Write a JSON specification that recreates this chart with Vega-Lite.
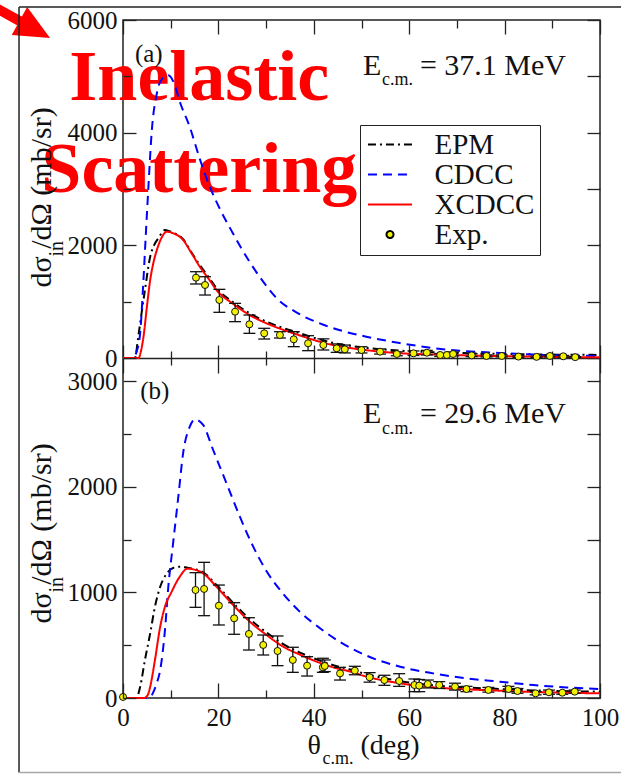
{
  "$schema": "https://vega.github.io/schema/vega-lite/v6.json",
  "width": 477,
  "height": 678,
  "autosize": {"type": "none"},
  "padding": {"left": 123, "top": 20, "right": 21, "bottom": 76},
  "background": "white",
  "config": {
    "view": {"stroke": "#222", "strokeWidth": 1.5},
    "axis": {
      "grid": false, "domain": false,
      "labelFont": "Liberation Serif, Times New Roman, DejaVu Serif, serif", "labelFontSize": 25, "labelColor": "#111",
      "titleFont": "Liberation Serif, Times New Roman, DejaVu Serif, serif", "titleFontWeight": "normal", "titleColor": "#111",
      "tickColor": "#222", "tickWidth": 1.3,
      "labelOverlap": false, "labelFlush": false, "labelBound": false
    },
    "legend": {"labelFont": "Liberation Serif, Times New Roman, DejaVu Serif, serif"},
    "text": {"font": "Liberation Serif, Times New Roman, DejaVu Serif, serif"}
  },
  "datasets": {
    "curves": [
      {"panel": "a", "series": "EPM", "theta": 0, "val": 0},
      {"panel": "a", "series": "EPM", "theta": 2.5, "val": 0},
      {"panel": "a", "series": "EPM", "theta": 3.2, "val": 378},
      {"panel": "a", "series": "EPM", "theta": 3.9, "val": 800},
      {"panel": "a", "series": "EPM", "theta": 4.6, "val": 1207},
      {"panel": "a", "series": "EPM", "theta": 5.7, "val": 1798},
      {"panel": "a", "series": "EPM", "theta": 6.5, "val": 2000},
      {"panel": "a", "series": "EPM", "theta": 7.4, "val": 2124},
      {"panel": "a", "series": "EPM", "theta": 8.8, "val": 2272},
      {"panel": "a", "series": "EPM", "theta": 9.6, "val": 2255},
      {"panel": "a", "series": "EPM", "theta": 10.5, "val": 2225},
      {"panel": "a", "series": "EPM", "theta": 12.6, "val": 2110},
      {"panel": "a", "series": "EPM", "theta": 14.3, "val": 1880},
      {"panel": "a", "series": "EPM", "theta": 16.1, "val": 1650},
      {"panel": "a", "series": "EPM", "theta": 18, "val": 1430},
      {"panel": "a", "series": "EPM", "theta": 19.6, "val": 1240},
      {"panel": "a", "series": "EPM", "theta": 23.1, "val": 990},
      {"panel": "a", "series": "EPM", "theta": 26.6, "val": 790},
      {"panel": "a", "series": "EPM", "theta": 30.1, "val": 645},
      {"panel": "a", "series": "EPM", "theta": 33.6, "val": 530},
      {"panel": "a", "series": "EPM", "theta": 37.1, "val": 440},
      {"panel": "a", "series": "EPM", "theta": 40, "val": 360},
      {"panel": "a", "series": "EPM", "theta": 44, "val": 270},
      {"panel": "a", "series": "EPM", "theta": 50, "val": 190},
      {"panel": "a", "series": "EPM", "theta": 58, "val": 130},
      {"panel": "a", "series": "EPM", "theta": 66, "val": 100},
      {"panel": "a", "series": "EPM", "theta": 75, "val": 80},
      {"panel": "a", "series": "EPM", "theta": 85, "val": 65},
      {"panel": "a", "series": "EPM", "theta": 100, "val": 55},

      {"panel": "a", "series": "CDCC", "theta": 0, "val": 0},
      {"panel": "a", "series": "CDCC", "theta": 2.2, "val": 0},
      {"panel": "a", "series": "CDCC", "theta": 2.8, "val": 100},
      {"panel": "a", "series": "CDCC", "theta": 3.6, "val": 444},
      {"panel": "a", "series": "CDCC", "theta": 4.2, "val": 1250},
      {"panel": "a", "series": "CDCC", "theta": 4.8, "val": 2219},
      {"panel": "a", "series": "CDCC", "theta": 5.4, "val": 3150},
      {"panel": "a", "series": "CDCC", "theta": 6, "val": 3994},
      {"panel": "a", "series": "CDCC", "theta": 7.1, "val": 4700},
      {"panel": "a", "series": "CDCC", "theta": 8.2, "val": 4960},
      {"panel": "a", "series": "CDCC", "theta": 9.5, "val": 5020},
      {"panel": "a", "series": "CDCC", "theta": 10.7, "val": 4880},
      {"panel": "a", "series": "CDCC", "theta": 12, "val": 4526},
      {"panel": "a", "series": "CDCC", "theta": 14, "val": 4100},
      {"panel": "a", "series": "CDCC", "theta": 16, "val": 3560},
      {"panel": "a", "series": "CDCC", "theta": 18, "val": 3080},
      {"panel": "a", "series": "CDCC", "theta": 20, "val": 2700},
      {"panel": "a", "series": "CDCC", "theta": 23, "val": 2220},
      {"panel": "a", "series": "CDCC", "theta": 26, "val": 1780},
      {"panel": "a", "series": "CDCC", "theta": 29, "val": 1400},
      {"panel": "a", "series": "CDCC", "theta": 32, "val": 1080},
      {"panel": "a", "series": "CDCC", "theta": 37, "val": 780},
      {"panel": "a", "series": "CDCC", "theta": 42, "val": 590},
      {"panel": "a", "series": "CDCC", "theta": 46, "val": 480},
      {"panel": "a", "series": "CDCC", "theta": 51, "val": 378},
      {"panel": "a", "series": "CDCC", "theta": 58, "val": 266},
      {"panel": "a", "series": "CDCC", "theta": 65, "val": 177},
      {"panel": "a", "series": "CDCC", "theta": 72, "val": 120},
      {"panel": "a", "series": "CDCC", "theta": 79, "val": 89},
      {"panel": "a", "series": "CDCC", "theta": 86, "val": 60},
      {"panel": "a", "series": "CDCC", "theta": 93, "val": 45},
      {"panel": "a", "series": "CDCC", "theta": 100, "val": 35},

      {"panel": "a", "series": "XCDCC", "theta": 0, "val": 0},
      {"panel": "a", "series": "XCDCC", "theta": 3.3, "val": 0},
      {"panel": "a", "series": "XCDCC", "theta": 3.7, "val": 100},
      {"panel": "a", "series": "XCDCC", "theta": 4.3, "val": 380},
      {"panel": "a", "series": "XCDCC", "theta": 5, "val": 900},
      {"panel": "a", "series": "XCDCC", "theta": 5.7, "val": 1385},
      {"panel": "a", "series": "XCDCC", "theta": 6.4, "val": 1700},
      {"panel": "a", "series": "XCDCC", "theta": 7.1, "val": 1917},
      {"panel": "a", "series": "XCDCC", "theta": 8, "val": 2120},
      {"panel": "a", "series": "XCDCC", "theta": 9.2, "val": 2242},
      {"panel": "a", "series": "XCDCC", "theta": 10.5, "val": 2215},
      {"panel": "a", "series": "XCDCC", "theta": 12.6, "val": 2095},
      {"panel": "a", "series": "XCDCC", "theta": 14.3, "val": 1870},
      {"panel": "a", "series": "XCDCC", "theta": 16.1, "val": 1620},
      {"panel": "a", "series": "XCDCC", "theta": 18, "val": 1400},
      {"panel": "a", "series": "XCDCC", "theta": 19.6, "val": 1207},
      {"panel": "a", "series": "XCDCC", "theta": 23.1, "val": 960},
      {"panel": "a", "series": "XCDCC", "theta": 26.6, "val": 760},
      {"panel": "a", "series": "XCDCC", "theta": 30.1, "val": 615},
      {"panel": "a", "series": "XCDCC", "theta": 33.6, "val": 500},
      {"panel": "a", "series": "XCDCC", "theta": 37.1, "val": 400},
      {"panel": "a", "series": "XCDCC", "theta": 40, "val": 320},
      {"panel": "a", "series": "XCDCC", "theta": 44, "val": 230},
      {"panel": "a", "series": "XCDCC", "theta": 50, "val": 150},
      {"panel": "a", "series": "XCDCC", "theta": 58, "val": 85},
      {"panel": "a", "series": "XCDCC", "theta": 66, "val": 60},
      {"panel": "a", "series": "XCDCC", "theta": 75, "val": 40},
      {"panel": "a", "series": "XCDCC", "theta": 85, "val": 25},
      {"panel": "a", "series": "XCDCC", "theta": 100, "val": 12},

      {"panel": "b", "series": "EPM", "theta": 0, "val": 0},
      {"panel": "b", "series": "EPM", "theta": 2.8, "val": 0},
      {"panel": "b", "series": "EPM", "theta": 3.6, "val": 107},
      {"panel": "b", "series": "EPM", "theta": 4.6, "val": 360},
      {"panel": "b", "series": "EPM", "theta": 5.7, "val": 612},
      {"panel": "b", "series": "EPM", "theta": 6.7, "val": 864},
      {"panel": "b", "series": "EPM", "theta": 7.8, "val": 1053},
      {"panel": "b", "series": "EPM", "theta": 9.2, "val": 1180},
      {"panel": "b", "series": "EPM", "theta": 10.9, "val": 1237},
      {"panel": "b", "series": "EPM", "theta": 12.3, "val": 1243},
      {"panel": "b", "series": "EPM", "theta": 13.5, "val": 1232},
      {"panel": "b", "series": "EPM", "theta": 15, "val": 1220},
      {"panel": "b", "series": "EPM", "theta": 16.8, "val": 1190},
      {"panel": "b", "series": "EPM", "theta": 19.6, "val": 1070},
      {"panel": "b", "series": "EPM", "theta": 23.1, "val": 900},
      {"panel": "b", "series": "EPM", "theta": 26.6, "val": 745},
      {"panel": "b", "series": "EPM", "theta": 30.1, "val": 620},
      {"panel": "b", "series": "EPM", "theta": 33.6, "val": 510},
      {"panel": "b", "series": "EPM", "theta": 37.1, "val": 430},
      {"panel": "b", "series": "EPM", "theta": 40.6, "val": 365},
      {"panel": "b", "series": "EPM", "theta": 44.1, "val": 310},
      {"panel": "b", "series": "EPM", "theta": 47.6, "val": 270},
      {"panel": "b", "series": "EPM", "theta": 51.1, "val": 225},
      {"panel": "b", "series": "EPM", "theta": 58.1, "val": 160},
      {"panel": "b", "series": "EPM", "theta": 65, "val": 120},
      {"panel": "b", "series": "EPM", "theta": 72, "val": 100},
      {"panel": "b", "series": "EPM", "theta": 79, "val": 85},
      {"panel": "b", "series": "EPM", "theta": 86, "val": 72},
      {"panel": "b", "series": "EPM", "theta": 100, "val": 60},

      {"panel": "b", "series": "CDCC", "theta": 0, "val": 0},
      {"panel": "b", "series": "CDCC", "theta": 5.5, "val": 0},
      {"panel": "b", "series": "CDCC", "theta": 6.2, "val": 40},
      {"panel": "b", "series": "CDCC", "theta": 7, "val": 130},
      {"panel": "b", "series": "CDCC", "theta": 7.8, "val": 265},
      {"panel": "b", "series": "CDCC", "theta": 8.8, "val": 644},
      {"panel": "b", "series": "CDCC", "theta": 9.5, "val": 1053},
      {"panel": "b", "series": "CDCC", "theta": 10.5, "val": 1464},
      {"panel": "b", "series": "CDCC", "theta": 11.6, "val": 1905},
      {"panel": "b", "series": "CDCC", "theta": 12.6, "val": 2316},
      {"panel": "b", "series": "CDCC", "theta": 14, "val": 2568},
      {"panel": "b", "series": "CDCC", "theta": 15.1, "val": 2637},
      {"panel": "b", "series": "CDCC", "theta": 16.8, "val": 2584},
      {"panel": "b", "series": "CDCC", "theta": 18.9, "val": 2347},
      {"panel": "b", "series": "CDCC", "theta": 21.7, "val": 2032},
      {"panel": "b", "series": "CDCC", "theta": 24.5, "val": 1716},
      {"panel": "b", "series": "CDCC", "theta": 27.3, "val": 1432},
      {"panel": "b", "series": "CDCC", "theta": 30.1, "val": 1200},
      {"panel": "b", "series": "CDCC", "theta": 33.6, "val": 985},
      {"panel": "b", "series": "CDCC", "theta": 37.1, "val": 815},
      {"panel": "b", "series": "CDCC", "theta": 41.3, "val": 660},
      {"panel": "b", "series": "CDCC", "theta": 45.5, "val": 530},
      {"panel": "b", "series": "CDCC", "theta": 51.1, "val": 400},
      {"panel": "b", "series": "CDCC", "theta": 58.1, "val": 296},
      {"panel": "b", "series": "CDCC", "theta": 65, "val": 233},
      {"panel": "b", "series": "CDCC", "theta": 72, "val": 186},
      {"panel": "b", "series": "CDCC", "theta": 79, "val": 154},
      {"panel": "b", "series": "CDCC", "theta": 86, "val": 123},
      {"panel": "b", "series": "CDCC", "theta": 93, "val": 100},
      {"panel": "b", "series": "CDCC", "theta": 100, "val": 85},

      {"panel": "b", "series": "XCDCC", "theta": 0, "val": 0},
      {"panel": "b", "series": "XCDCC", "theta": 4.4, "val": 0},
      {"panel": "b", "series": "XCDCC", "theta": 5.2, "val": 30},
      {"panel": "b", "series": "XCDCC", "theta": 5.7, "val": 107},
      {"panel": "b", "series": "XCDCC", "theta": 6.7, "val": 360},
      {"panel": "b", "series": "XCDCC", "theta": 7.8, "val": 675},
      {"panel": "b", "series": "XCDCC", "theta": 8.8, "val": 864},
      {"panel": "b", "series": "XCDCC", "theta": 10.2, "val": 1006},
      {"panel": "b", "series": "XCDCC", "theta": 11.9, "val": 1148},
      {"panel": "b", "series": "XCDCC", "theta": 13.5, "val": 1224},
      {"panel": "b", "series": "XCDCC", "theta": 15, "val": 1215},
      {"panel": "b", "series": "XCDCC", "theta": 16.8, "val": 1180},
      {"panel": "b", "series": "XCDCC", "theta": 19.6, "val": 1053},
      {"panel": "b", "series": "XCDCC", "theta": 23.1, "val": 880},
      {"panel": "b", "series": "XCDCC", "theta": 26.6, "val": 722},
      {"panel": "b", "series": "XCDCC", "theta": 30.1, "val": 596},
      {"panel": "b", "series": "XCDCC", "theta": 33.6, "val": 486},
      {"panel": "b", "series": "XCDCC", "theta": 37.1, "val": 410},
      {"panel": "b", "series": "XCDCC", "theta": 40.6, "val": 344},
      {"panel": "b", "series": "XCDCC", "theta": 44.1, "val": 290},
      {"panel": "b", "series": "XCDCC", "theta": 47.6, "val": 250},
      {"panel": "b", "series": "XCDCC", "theta": 51.1, "val": 202},
      {"panel": "b", "series": "XCDCC", "theta": 58.1, "val": 139},
      {"panel": "b", "series": "XCDCC", "theta": 65, "val": 101},
      {"panel": "b", "series": "XCDCC", "theta": 72, "val": 82},
      {"panel": "b", "series": "XCDCC", "theta": 79, "val": 69},
      {"panel": "b", "series": "XCDCC", "theta": 86, "val": 57},
      {"panel": "b", "series": "XCDCC", "theta": 100, "val": 44}
    ],
    "exp": [
      {"panel": "a", "series": "Exp.", "theta": 15.3, "val": 1426, "lo": 1314, "hi": 1532},
      {"panel": "a", "series": "Exp.", "theta": 17.2, "val": 1296, "lo": 1118, "hi": 1443},
      {"panel": "a", "series": "Exp.", "theta": 20.2, "val": 1030, "lo": 811, "hi": 1219},
      {"panel": "a", "series": "Exp.", "theta": 23.5, "val": 822, "lo": 645, "hi": 970},
      {"panel": "a", "series": "Exp.", "theta": 26.5, "val": 598, "lo": 438, "hi": 763},
      {"panel": "a", "series": "Exp.", "theta": 29.6, "val": 438, "lo": 337, "hi": 527},
      {"panel": "a", "series": "Exp.", "theta": 32.9, "val": 408, "lo": 355, "hi": 467},
      {"panel": "a", "series": "Exp.", "theta": 35.8, "val": 332, "lo": 201, "hi": 467},
      {"panel": "a", "series": "Exp.", "theta": 38.8, "val": 261, "lo": 130, "hi": 396},
      {"panel": "a", "series": "Exp.", "theta": 42.0, "val": 231, "lo": 142, "hi": 340},
      {"panel": "a", "series": "Exp.", "theta": 44.8, "val": 172, "lo": 100, "hi": 250},
      {"panel": "a", "series": "Exp.", "theta": 46.5, "val": 154, "lo": 90, "hi": 230},
      {"panel": "a", "series": "Exp.", "theta": 50.0, "val": 142, "lo": 90, "hi": 200},
      {"panel": "a", "series": "Exp.", "theta": 53.9, "val": 112, "lo": 70, "hi": 160},
      {"panel": "a", "series": "Exp.", "theta": 57.4, "val": 71, "lo": 40, "hi": 110},
      {"panel": "a", "series": "Exp.", "theta": 60.9, "val": 83, "lo": 45, "hi": 125},
      {"panel": "a", "series": "Exp.", "theta": 63.7, "val": 94, "lo": 55, "hi": 135},
      {"panel": "a", "series": "Exp.", "theta": 66.5, "val": 53, "lo": 30, "hi": 80},
      {"panel": "a", "series": "Exp.", "theta": 67.9, "val": 53, "lo": 30, "hi": 80},
      {"panel": "a", "series": "Exp.", "theta": 69.2, "val": 71, "lo": 40, "hi": 105},
      {"panel": "a", "series": "Exp.", "theta": 73.1, "val": 47, "lo": 25, "hi": 75},
      {"panel": "a", "series": "Exp.", "theta": 76.2, "val": 36, "lo": 20, "hi": 55},
      {"panel": "a", "series": "Exp.", "theta": 79.4, "val": 36, "lo": 20, "hi": 55},
      {"panel": "a", "series": "Exp.", "theta": 82.9, "val": 25, "lo": 12, "hi": 40},
      {"panel": "a", "series": "Exp.", "theta": 86.7, "val": 20, "lo": 10, "hi": 35},
      {"panel": "a", "series": "Exp.", "theta": 89.5, "val": 36, "lo": 20, "hi": 55},
      {"panel": "a", "series": "Exp.", "theta": 92.3, "val": 30, "lo": 15, "hi": 45},
      {"panel": "a", "series": "Exp.", "theta": 94.8, "val": 15, "lo": 5, "hi": 25},

      {"panel": "b", "series": "Exp.", "theta": 0, "val": 10, "lo": null, "hi": null},
      {"panel": "b", "series": "Exp.", "theta": 15.2, "val": 1022, "lo": 858, "hi": 1186},
      {"panel": "b", "series": "Exp.", "theta": 17.0, "val": 1032, "lo": 779, "hi": 1284},
      {"panel": "b", "series": "Exp.", "theta": 20.1, "val": 874, "lo": 691, "hi": 1069},
      {"panel": "b", "series": "Exp.", "theta": 23.3, "val": 754, "lo": 603, "hi": 902},
      {"panel": "b", "series": "Exp.", "theta": 26.4, "val": 606, "lo": 454, "hi": 760},
      {"panel": "b", "series": "Exp.", "theta": 29.4, "val": 502, "lo": 407, "hi": 596},
      {"panel": "b", "series": "Exp.", "theta": 32.4, "val": 445, "lo": 306, "hi": 587},
      {"panel": "b", "series": "Exp.", "theta": 35.6, "val": 360, "lo": 243, "hi": 480},
      {"panel": "b", "series": "Exp.", "theta": 38.6, "val": 306, "lo": 208, "hi": 391},
      {"panel": "b", "series": "Exp.", "theta": 41.9, "val": 290, "lo": 243, "hi": 376},
      {"panel": "b", "series": "Exp.", "theta": 42.3, "val": 303, "lo": 250, "hi": 360},
      {"panel": "b", "series": "Exp.", "theta": 45.5, "val": 233, "lo": 170, "hi": 290},
      {"panel": "b", "series": "Exp.", "theta": 48.6, "val": 259, "lo": 220, "hi": 300},
      {"panel": "b", "series": "Exp.", "theta": 51.7, "val": 196, "lo": 150, "hi": 240},
      {"panel": "b", "series": "Exp.", "theta": 54.8, "val": 170, "lo": 120, "hi": 215},
      {"panel": "b", "series": "Exp.", "theta": 57.9, "val": 161, "lo": 110, "hi": 230},
      {"panel": "b", "series": "Exp.", "theta": 61.1, "val": 123, "lo": 60, "hi": 180},
      {"panel": "b", "series": "Exp.", "theta": 62.1, "val": 117, "lo": 60, "hi": 175},
      {"panel": "b", "series": "Exp.", "theta": 63.9, "val": 132, "lo": 95, "hi": 170},
      {"panel": "b", "series": "Exp.", "theta": 66.3, "val": 123, "lo": 90, "hi": 155},
      {"panel": "b", "series": "Exp.", "theta": 69.6, "val": 107, "lo": 75, "hi": 140},
      {"panel": "b", "series": "Exp.", "theta": 72.0, "val": 85, "lo": 60, "hi": 110},
      {"panel": "b", "series": "Exp.", "theta": 76.6, "val": 76, "lo": 55, "hi": 100},
      {"panel": "b", "series": "Exp.", "theta": 80.8, "val": 85, "lo": 60, "hi": 110},
      {"panel": "b", "series": "Exp.", "theta": 82.7, "val": 66, "lo": 45, "hi": 90},
      {"panel": "b", "series": "Exp.", "theta": 86.5, "val": 44, "lo": 30, "hi": 60},
      {"panel": "b", "series": "Exp.", "theta": 89.3, "val": 54, "lo": 35, "hi": 75},
      {"panel": "b", "series": "Exp.", "theta": 92.1, "val": 50, "lo": 35, "hi": 65},
      {"panel": "b", "series": "Exp.", "theta": 94.7, "val": 60, "lo": 45, "hi": 75}
    ]
  },
  "resolve": {"scale": {"y": "independent"}, "axis": {"x": "independent", "y": "independent"}},
  "layer": [
    {
      "resolve": {"axis": {"x": "independent", "y": "independent"}},
      "layer": [
        {
          "data": {"values": [{}]},
          "mark": {"type": "text", "text": ["Inelastic", "Scattering"], "lineHeight": 92, "fontWeight": "bold", "fontSize": 72, "color": "#ff0000", "align": "center", "baseline": "alphabetic"},
          "encoding": {
            "x": {"datum": 16.0, "type": "quantitative", "scale": {"domain": [0, 100], "nice": false, "zero": false}, "axis": null},
            "y": {"datum": 4580, "type": "quantitative", "scale": {"domain": [0, 6000], "range": [338, 0], "nice": false, "zero": false}, "axis": null}
          }
        },
        {
          "data": {"values": [{}]},
          "mark": {"type": "rule", "color": "#ff0000", "strokeWidth": 10, "strokeCap": "butt"},
          "encoding": {
            "x": {"datum": -26.8, "type": "quantitative", "scale": {"domain": [0, 100], "nice": false, "zero": false}, "axis": null},
            "y": {"datum": 6223, "type": "quantitative", "scale": {"domain": [0, 6000], "range": [338, 0], "nice": false, "zero": false}, "axis": null},
            "x2": {"datum": -20.8},
            "y2": {"datum": 5939}
          }
        },
        {
          "data": {"values": [{}]},
          "mark": {"type": "point", "shape": "M1,0L-1,-0.91L-1,0.91Z", "filled": true, "color": "#ff0000", "opacity": 1, "size": 1225, "angle": 29},
          "encoding": {
            "x": {"datum": -18.5, "type": "quantitative", "scale": {"domain": [0, 100], "nice": false, "zero": false}, "axis": null},
            "y": {"datum": 5831, "type": "quantitative", "scale": {"domain": [0, 6000], "range": [338, 0], "nice": false, "zero": false}, "axis": null}
          }
        },
        {
          "data": {"name": "curves"},
          "transform": [{"filter": "datum.panel === 'a'"}],
          "mark": {"type": "line", "strokeWidth": 2, "interpolate": "monotone"},
          "encoding": {
            "x": {"field": "theta", "type": "quantitative",
              "scale": {"domain": [0, 100], "nice": false, "zero": false},
              "axis": {"orient": "top", "values": [0, 10, 20, 30, 40, 50, 60, 70, 80, 90, 100], "labels": false, "title": null,
                "tickSize": {"condition": {"test": "datum.value % 20 === 0", "value": -14}, "value": -8}}},
            "y": {"field": "val", "type": "quantitative",
              "scale": {"domain": [0, 6000], "range": [338, 0], "nice": false, "zero": false},
              "axis": {"orient": "left", "values": [0, 1000, 2000, 3000, 4000, 5000, 6000], "format": "d",
                "labelExpr": "datum.value % 2000 === 0 ? datum.label : ''", "labelPadding": 19,
                "tickSize": {"condition": {"test": "datum.value % 2000 === 0", "value": -13}, "value": -8},
                "title": "dσ  /dΩ (mb/sr)", "titleFontSize": 30, "titleAngle": -90, "titleAlign": "left", "titleBaseline": "alphabetic",
                "titleX": -73, "titleY": 267, "zindex": 1}},
            "color": {"field": "series", "type": "nominal",
              "scale": {"domain": ["EPM", "CDCC", "XCDCC", "Exp."], "range": ["#000000", "#0000ff", "#ff0000", "#000000"]},
              "legend": {"orient": "none", "legendX": 237, "legendY": 105, "title": null, "zindex": 2,
                "fillColor": "white", "strokeColor": "#222", "padding": 5, "rowPadding": 0,
                "labelFontSize": 29, "labelColor": "#111",
                "labelOffset": 30, "symbolOffset": 10.5, "symbolSize": 49, "symbolStrokeWidth": 2}},
            "strokeDash": {"field": "series", "type": "nominal",
              "scale": {"domain": ["EPM", "CDCC", "XCDCC", "Exp."], "range": [[8, 4, 2, 4], [9, 6], [1, 0], [1, 0]]}}
          }
        },
        {
          "data": {"name": "exp"},
          "transform": [{"filter": "datum.panel === 'a'"}],
          "mark": {"type": "rule", "color": "#111", "strokeWidth": 1.3},
          "encoding": {
            "x": {"field": "theta", "type": "quantitative",
              "scale": {"domain": [0, 100], "nice": false, "zero": false},
              "axis": {"orient": "bottom", "offset": -340, "values": [0, 10, 20, 30, 40, 50, 60, 70, 80, 90, 100], "labels": false, "title": null,
                "domain": true, "domainColor": "#222", "domainWidth": 1.5,
                "tickSize": {"condition": {"test": "datum.value % 20 === 0", "value": -13}, "value": -7}}},
            "y": {"field": "lo", "type": "quantitative",
              "scale": {"domain": [0, 6000], "range": [338, 0], "nice": false, "zero": false},
              "axis": {"orient": "right", "values": [0, 1000, 2000, 3000, 4000, 5000, 6000], "labels": false, "title": null, "tickSize": -13}},
            "y2": {"field": "hi"}
          }
        },
        {
          "data": {"name": "exp"},
          "transform": [{"filter": "datum.panel === 'a'"}],
          "mark": {"type": "tick", "orient": "horizontal", "size": 12, "thickness": 1.3, "color": "#111", "opacity": 1},
          "encoding": {
            "x": {"field": "theta", "type": "quantitative",
              "scale": {"domain": [0, 100], "nice": false, "zero": false},
              "axis": {"orient": "bottom", "offset": -340, "values": [0, 10, 20, 30, 40, 50, 60, 70, 80, 90, 100], "labels": false, "title": null,
                "tickSize": {"condition": {"test": "datum.value % 20 === 0", "value": 15}, "value": 7}}},
            "y": {"field": "lo", "type": "quantitative",
              "scale": {"domain": [0, 6000], "range": [338, 0], "nice": false, "zero": false},
              "axis": {"orient": "left", "labels": false, "ticks": false, "title": "in", "titleFontSize": 20,
                "titleAngle": -90, "titleAlign": "left", "titleBaseline": "alphabetic", "titleX": -61, "titleY": 236, "zindex": 1}}
          }
        },
        {
          "data": {"name": "exp"},
          "transform": [{"filter": "datum.panel === 'a'"}],
          "mark": {"type": "tick", "orient": "horizontal", "size": 12, "thickness": 1.3, "color": "#111", "opacity": 1},
          "encoding": {
            "x": {"field": "theta", "type": "quantitative", "scale": {"domain": [0, 100], "nice": false, "zero": false}, "axis": null},
            "y": {"field": "hi", "type": "quantitative", "scale": {"domain": [0, 6000], "range": [338, 0], "nice": false, "zero": false}, "axis": null}
          }
        },
        {
          "data": {"name": "exp"},
          "transform": [{"filter": "datum.panel === 'a'"}],
          "mark": {"type": "point", "filled": true, "stroke": "#111", "strokeWidth": 1, "size": 49, "opacity": 1},
          "encoding": {
            "x": {"field": "theta", "type": "quantitative", "scale": {"domain": [0, 100], "nice": false, "zero": false}, "axis": null},
            "y": {"field": "val", "type": "quantitative", "scale": {"domain": [0, 6000], "range": [338, 0], "nice": false, "zero": false}, "axis": null},
            "fill": {"field": "series", "type": "nominal",
              "scale": {"domain": ["EPM", "CDCC", "XCDCC", "Exp."], "range": ["transparent", "transparent", "transparent", "#f2f200"]}},
            "shape": {"field": "series", "type": "nominal",
              "scale": {"domain": ["EPM", "CDCC", "XCDCC", "Exp."], "range": ["M-6.3,0H6.3", "M-6.3,0H6.3", "M-6.3,0H6.3", "circle"]}}
          }
        },
        {
          "data": {"values": [{}]},
          "mark": {"type": "text", "text": "(a)", "fontSize": 25, "color": "#111", "align": "left", "baseline": "middle"},
          "encoding": {
            "x": {"datum": 2.5, "type": "quantitative", "scale": {"domain": [0, 100], "nice": false, "zero": false}, "axis": null},
            "y": {"datum": 5396, "type": "quantitative", "scale": {"domain": [0, 6000], "range": [338, 0], "nice": false, "zero": false}, "axis": null}
          }
        },
        {
          "data": {"values": [{}]},
          "mark": {"type": "text", "text": "E", "fontSize": 30, "color": "#111", "align": "left", "baseline": "alphabetic"},
          "encoding": {
            "x": {"datum": 50.3, "type": "quantitative", "scale": {"domain": [0, 100], "nice": false, "zero": false}, "axis": null},
            "y": {"datum": 5023, "type": "quantitative", "scale": {"domain": [0, 6000], "range": [338, 0], "nice": false, "zero": false}, "axis": null}
          }
        },
        {
          "data": {"values": [{}]},
          "mark": {"type": "text", "text": "c.m.", "fontSize": 18, "color": "#111", "align": "left", "baseline": "alphabetic", "dx": 19, "dy": 10},
          "encoding": {
            "x": {"datum": 50.3, "type": "quantitative", "scale": {"domain": [0, 100], "nice": false, "zero": false}, "axis": null},
            "y": {"datum": 5023, "type": "quantitative", "scale": {"domain": [0, 6000], "range": [338, 0], "nice": false, "zero": false}, "axis": null}
          }
        },
        {
          "data": {"values": [{}]},
          "mark": {"type": "text", "text": "= 37.1 MeV", "fontSize": 30, "color": "#111", "align": "left", "baseline": "alphabetic", "dx": 57},
          "encoding": {
            "x": {"datum": 50.3, "type": "quantitative", "scale": {"domain": [0, 100], "nice": false, "zero": false}, "axis": null},
            "y": {"datum": 5023, "type": "quantitative", "scale": {"domain": [0, 6000], "range": [338, 0], "nice": false, "zero": false}, "axis": null}
          }
        }
      ]
    },
    {
      "resolve": {"axis": {"x": "independent", "y": "independent"}},
      "layer": [
        {
          "data": {"values": [{}]},
          "mark": {"type": "rule", "color": "#222", "strokeWidth": 1.5},
          "encoding": {
            "x": {"datum": -21.8, "type": "quantitative", "scale": {"domain": [0, 100], "nice": false, "zero": false}, "axis": null},
            "y": {"datum": 6539, "type": "quantitative", "scale": {"domain": [0, 3000], "range": [678, 361], "nice": false, "zero": false}, "axis": null},
            "y2": {"datum": -705}
          }
        },
        {
          "data": {"values": [{}]},
          "mark": {"type": "rule", "color": "#222", "strokeWidth": 1.5},
          "encoding": {
            "x": {"datum": -21.8, "type": "quantitative", "scale": {"domain": [0, 100], "nice": false, "zero": false}, "axis": null},
            "x2": {"datum": 106},
            "y": {"datum": 6539, "type": "quantitative", "scale": {"domain": [0, 3000], "range": [678, 361], "nice": false, "zero": false}, "axis": null}
          }
        },
        {
          "data": {"values": [{}]},
          "mark": {"type": "rule", "color": "#a8a8a8", "strokeWidth": 1.5},
          "encoding": {
            "x": {"datum": -21.8, "type": "quantitative", "scale": {"domain": [0, 100], "nice": false, "zero": false}, "axis": null},
            "x2": {"datum": 106},
            "y": {"datum": -705, "type": "quantitative", "scale": {"domain": [0, 3000], "range": [678, 361], "nice": false, "zero": false}, "axis": null}
          }
        },
        {
          "data": {"name": "curves"},
          "transform": [{"filter": "datum.panel === 'b'"}],
          "mark": {"type": "line", "strokeWidth": 2, "interpolate": "monotone"},
          "encoding": {
            "x": {"field": "theta", "type": "quantitative",
              "scale": {"domain": [0, 100], "nice": false, "zero": false},
              "axis": {"orient": "bottom", "values": [0, 10, 20, 30, 40, 50, 60, 70, 80, 90, 100], "format": "d",
                "labelExpr": "datum.value % 20 === 0 ? datum.label : ''", "labelPadding": 22,
                "tickSize": {"condition": {"test": "datum.value % 20 === 0", "value": -15}, "value": -8},
                "title": "θ", "titleFontSize": 28, "titleAlign": "left", "titleBaseline": "alphabetic",
                "titleX": 184, "titleY": 55, "zindex": 1}},
            "y": {"field": "val", "type": "quantitative",
              "scale": {"domain": [0, 3000], "range": [678, 361], "nice": false, "zero": false},
              "axis": {"orient": "left", "values": [0, 500, 1000, 1500, 2000, 2500, 3000], "format": "d",
                "labelExpr": "datum.value % 1000 === 0 ? datum.label : ''", "labelPadding": 19,
                "tickSize": {"condition": {"test": "datum.value % 1000 === 0", "value": -13}, "value": -8},
                "title": "dσ  /dΩ (mb/sr)", "titleFontSize": 30, "titleAngle": -90, "titleAlign": "left", "titleBaseline": "alphabetic",
                "titleX": -73, "titleY": 603, "zindex": 1}},
            "color": {"field": "series", "type": "nominal",
              "scale": {"domain": ["EPM", "CDCC", "XCDCC", "Exp."], "range": ["#000000", "#0000ff", "#ff0000", "#000000"]}},
            "strokeDash": {"field": "series", "type": "nominal",
              "scale": {"domain": ["EPM", "CDCC", "XCDCC", "Exp."], "range": [[8, 4, 2, 4], [9, 6], [1, 0], [1, 0]]}}
          }
        },
        {
          "data": {"name": "exp"},
          "transform": [{"filter": "datum.panel === 'b'"}],
          "mark": {"type": "rule", "color": "#111", "strokeWidth": 1.3},
          "encoding": {
            "x": {"field": "theta", "type": "quantitative",
              "scale": {"domain": [0, 100], "nice": false, "zero": false},
              "axis": {"orient": "bottom", "labels": false, "ticks": false, "title": "c.m.", "titleFontSize": 18,
                "titleAlign": "left", "titleBaseline": "alphabetic", "titleX": 199, "titleY": 65}},
            "y": {"field": "lo", "type": "quantitative",
              "scale": {"domain": [0, 3000], "range": [678, 361], "nice": false, "zero": false},
              "axis": {"orient": "right", "values": [0, 500, 1000, 1500, 2000, 2500, 3000], "labels": false, "title": null, "tickSize": -13}},
            "y2": {"field": "hi"}
          }
        },
        {
          "data": {"name": "exp"},
          "transform": [{"filter": "datum.panel === 'b'"}],
          "mark": {"type": "tick", "orient": "horizontal", "size": 12, "thickness": 1.3, "color": "#111", "opacity": 1},
          "encoding": {
            "x": {"field": "theta", "type": "quantitative",
              "scale": {"domain": [0, 100], "nice": false, "zero": false},
              "axis": {"orient": "bottom", "labels": false, "ticks": false, "title": "(deg)", "titleFontSize": 28,
                "titleAlign": "left", "titleBaseline": "alphabetic", "titleX": 237, "titleY": 55}},
            "y": {"field": "lo", "type": "quantitative",
              "scale": {"domain": [0, 3000], "range": [678, 361], "nice": false, "zero": false},
              "axis": {"orient": "left", "labels": false, "ticks": false, "title": "in", "titleFontSize": 20,
                "titleAngle": -90, "titleAlign": "left", "titleBaseline": "alphabetic", "titleX": -61, "titleY": 572, "zindex": 1}}
          }
        },
        {
          "data": {"name": "exp"},
          "transform": [{"filter": "datum.panel === 'b'"}],
          "mark": {"type": "tick", "orient": "horizontal", "size": 12, "thickness": 1.3, "color": "#111", "opacity": 1},
          "encoding": {
            "x": {"field": "theta", "type": "quantitative", "scale": {"domain": [0, 100], "nice": false, "zero": false}, "axis": null},
            "y": {"field": "hi", "type": "quantitative", "scale": {"domain": [0, 3000], "range": [678, 361], "nice": false, "zero": false}, "axis": null}
          }
        },
        {
          "data": {"name": "exp"},
          "transform": [{"filter": "datum.panel === 'b'"}],
          "mark": {"type": "point", "filled": true, "stroke": "#111", "strokeWidth": 1, "size": 49, "opacity": 1},
          "encoding": {
            "x": {"field": "theta", "type": "quantitative", "scale": {"domain": [0, 100], "nice": false, "zero": false}, "axis": null},
            "y": {"field": "val", "type": "quantitative", "scale": {"domain": [0, 3000], "range": [678, 361], "nice": false, "zero": false}, "axis": null},
            "fill": {"field": "series", "type": "nominal",
              "scale": {"domain": ["EPM", "CDCC", "XCDCC", "Exp."], "range": ["transparent", "transparent", "transparent", "#f2f200"]}},
            "shape": {"field": "series", "type": "nominal",
              "scale": {"domain": ["EPM", "CDCC", "XCDCC", "Exp."], "range": ["M-6.3,0H6.3", "M-6.3,0H6.3", "M-6.3,0H6.3", "circle"]}}
          }
        },
        {
          "data": {"values": [{}]},
          "mark": {"type": "text", "text": "(b)", "fontSize": 25, "color": "#111", "align": "left", "baseline": "middle"},
          "encoding": {
            "x": {"datum": 3.6, "type": "quantitative", "scale": {"domain": [0, 100], "nice": false, "zero": false}, "axis": null},
            "y": {"datum": 2905, "type": "quantitative", "scale": {"domain": [0, 3000], "range": [678, 361], "nice": false, "zero": false}, "axis": null}
          }
        },
        {
          "data": {"values": [{}]},
          "mark": {"type": "text", "text": "E", "fontSize": 30, "color": "#111", "align": "left", "baseline": "alphabetic"},
          "encoding": {
            "x": {"datum": 50.3, "type": "quantitative", "scale": {"domain": [0, 100], "nice": false, "zero": false}, "axis": null},
            "y": {"datum": 2603, "type": "quantitative", "scale": {"domain": [0, 3000], "range": [678, 361], "nice": false, "zero": false}, "axis": null}
          }
        },
        {
          "data": {"values": [{}]},
          "mark": {"type": "text", "text": "c.m.", "fontSize": 18, "color": "#111", "align": "left", "baseline": "alphabetic", "dx": 19, "dy": 11},
          "encoding": {
            "x": {"datum": 50.3, "type": "quantitative", "scale": {"domain": [0, 100], "nice": false, "zero": false}, "axis": null},
            "y": {"datum": 2603, "type": "quantitative", "scale": {"domain": [0, 3000], "range": [678, 361], "nice": false, "zero": false}, "axis": null}
          }
        },
        {
          "data": {"values": [{}]},
          "mark": {"type": "text", "text": "= 29.6 MeV", "fontSize": 30, "color": "#111", "align": "left", "baseline": "alphabetic", "dx": 57},
          "encoding": {
            "x": {"datum": 50.3, "type": "quantitative", "scale": {"domain": [0, 100], "nice": false, "zero": false}, "axis": null},
            "y": {"datum": 2603, "type": "quantitative", "scale": {"domain": [0, 3000], "range": [678, 361], "nice": false, "zero": false}, "axis": null}
          }
        }
      ]
    }
  ]
}
